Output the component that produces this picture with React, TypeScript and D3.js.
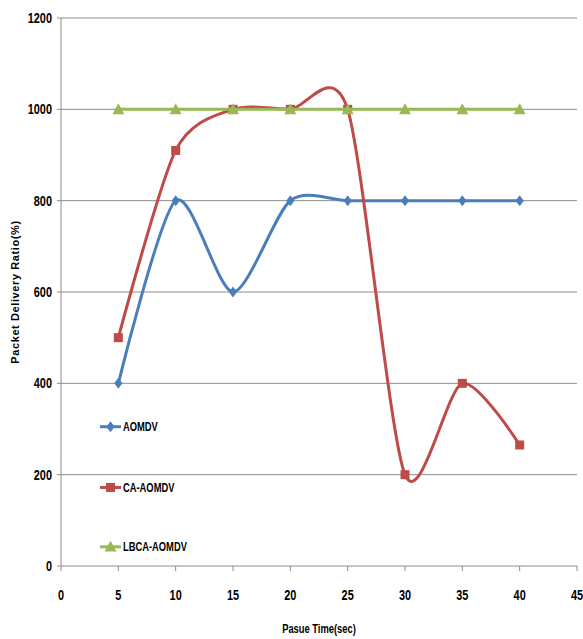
import React from "react";
import * as d3 from "d3";

const pauseTimes = [5, 10, 15, 20, 25, 30, 35, 40];
const aomdv = [400, 800, 600, 800, 800, 800, 800, 800];
const caAomdv = [500, 910, 1000, 1000, 1000, 200, 400, 265];
const lbcaAomdv = [1000, 1000, 1000, 1000, 1000, 1000, 1000, 1000];
const xTicks = [0, 5, 10, 15, 20, 25, 30, 35, 40, 45];
const yTicks = [0, 200, 400, 600, 800, 1000, 1200];
const seriesNames = ["AOMDV", "CA-AOMDV", "LBCA-AOMDV"];
const xTitle = "Pasue Time(sec)";
const yTitle = "Packet Delivery Ratio(%)";

const W = 583;
const H = 639;
const left = 61;
const right = 577;
const top = 18;
const bottom = 566;

const colors = ["#4A7EBB", "#BE4B48", "#98B954"];
const labelFont = "'Liberation Sans', Arial, sans-serif";

// Bold label squeezed horizontally to mimic a condensed face
function CText({
  x,
  y,
  anchor = "start",
  size = 13,
  squeeze = 0.8,
  children,
}: {
  x: number;
  y: number;
  anchor?: "start" | "middle" | "end";
  size?: number;
  squeeze?: number;
  children: React.ReactNode;
}) {
  return (
    <text
      transform={`translate(${x},${y}) scale(${squeeze},1)`}
      dy="0.35em"
      textAnchor={anchor}
      fontFamily={labelFont}
      fontWeight="bold"
      fontSize={size}
      fill="#000"
    >
      {children}
    </text>
  );
}

function Marker({ kind, x, y, color }: { kind: number; x: number; y: number; color: string }) {
  if (kind === 0) {
    const r = 5.5;
    return <path d={`M${x},${y - r}L${x + r * 0.75},${y}L${x},${y + r}L${x - r * 0.75},${y}Z`} fill={color} />;
  }
  if (kind === 1) {
    return <rect x={x - 4.5} y={y - 4.5} width={9} height={9} fill={color} />;
  }
  const s = 6;
  return <path d={`M${x},${y - s}L${x + s},${y + s * 0.8}L${x - s},${y + s * 0.8}Z`} fill={color} />;
}

export default function App() {
  const x = d3.scaleLinear().domain([0, 45]).range([left, right]);
  const y = d3.scaleLinear().domain([0, 1200]).range([bottom, top]);
  const series = [aomdv, caAomdv, lbcaAomdv];
  const line = d3
    .line<number>()
    .x((_, i) => x(pauseTimes[i]))
    .y((v) => y(v))
    .curve(d3.curveCardinal.tension(0.2));

  const legendY = [y(305), y(172), y(42)];

  return (
    <svg width={W} height={H} style={{ position: "absolute", left: 0, top: 0, background: "#fff" }}>
      {/* horizontal gridlines */}
      {yTicks.slice(1).map((t) => (
        <line key={t} x1={left} x2={right} y1={y(t)} y2={y(t)} stroke="#8c8c8c" strokeWidth={1} />
      ))}
      {/* axes */}
      <line x1={left} x2={left} y1={top} y2={bottom} stroke="#8c8c8c" strokeWidth={1} />
      <line x1={left} x2={right} y1={bottom} y2={bottom} stroke="#8c8c8c" strokeWidth={1} />
      {yTicks.map((t) => (
        <g key={t}>
          <line x1={left - 4} x2={left} y1={y(t)} y2={y(t)} stroke="#8c8c8c" />
          <CText x={52} y={y(t)} anchor="end" size={14} squeeze={0.78}>
            {t}
          </CText>
        </g>
      ))}
      {xTicks.map((t) => (
        <g key={t}>
          <line x1={x(t)} x2={x(t)} y1={bottom} y2={bottom + 5} stroke="#8c8c8c" />
          <CText x={x(t)} y={595} anchor="middle" size={14} squeeze={0.78}>
            {t}
          </CText>
        </g>
      ))}
      {/* series */}
      {series.map((vals, si) => (
        <g key={si}>
          <path d={line(vals) || ""} fill="none" stroke={colors[si]} strokeWidth={3} />
          {vals.map((v, i) => (
            <Marker key={i} kind={si} x={x(pauseTimes[i])} y={y(v)} color={colors[si]} />
          ))}
        </g>
      ))}
      {/* legend */}
      {seriesNames.map((name, i) => (
        <g key={name}>
          <line x1={100} x2={121} y1={legendY[i]} y2={legendY[i]} stroke={colors[i]} strokeWidth={3} />
          <Marker kind={i} x={110.5} y={legendY[i]} color={colors[i]} />
          <CText x={123} y={legendY[i]} size={13} squeeze={0.72}>
            {name}
          </CText>
        </g>
      ))}
      {/* axis titles */}
      <CText x={319} y={628} anchor="middle" size={13} squeeze={0.72}>
        {xTitle}
      </CText>
      <text
        transform={`translate(15,292) rotate(-90)`}
        dy="0.35em"
        textAnchor="middle"
        fontFamily={labelFont}
        fontWeight="bold"
        fontSize={11}
        letterSpacing={0.6}
        fill="#000"
      >
        {yTitle}
      </text>
    </svg>
  );
}
